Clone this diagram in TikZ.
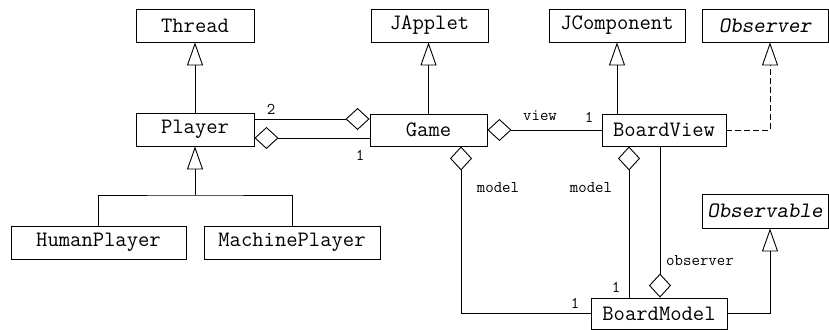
\documentclass[tikz,border=0pt]{standalone}
\usepackage{fontspec}
\usetikzlibrary{arrows.meta}

\begin{document}
\begin{tikzpicture}[x=1pt,y=-1pt,
	box/.style={draw, line width=0.9pt, inner sep=0pt, minimum height=33pt,
		font=\ttfamily\fontsize{22}{24}\selectfont},
	lbl/.style={inner sep=0pt, font=\ttfamily\fontsize{16.4}{18}\selectfont},
	inherit/.style={line width=0.9pt, -{Triangle[open, width=16pt, length=23pt]}},
	realize/.style={inherit, dash pattern=on 6pt off 3pt},
	agg/.style={line width=0.9pt, {Diamond[open, width=22pt, length=24pt]}-}]
	\useasboundingbox (0,0) rectangle (829,329);
	
	% classes
	\node[box, minimum width=118pt] (Thread) at (195,25.5) {Thread};
	\node[box, minimum width=117pt] (JApplet) at (429.5,25.5) {JApplet};
	\node[box, minimum width=136pt] (JComponent) at (617,25.5) {JComponent};
	\node[box, minimum width=126pt] (Observer) at (765,25.5) {\slshape Observer};
	\node[box, minimum width=118pt] (Player) at (195,129.5) {Player};
	\node[box, minimum width=117pt, minimum height=32pt] (Game) at (428.5,130) {Game};
	\node[box, minimum width=124pt, minimum height=32pt] (BoardView) at (664,130) {BoardView};
	\node[box, minimum width=175pt] (HumanPlayer) at (98.5,242.5) {HumanPlayer};
	\node[box, minimum width=176pt] (MachinePlayer) at (292,242.5) {MachinePlayer};
	\node[box, minimum width=126pt, minimum height=34pt] (Observable) at (765,211) {\slshape Observable};
	\node[box, minimum width=136pt, minimum height=31pt] (BoardModel) at (659,313.5) {BoardModel};
	
	% generalisation
	\draw[inherit] (Player) -- (Thread);
	\draw[inherit] (Game) -- (Game |- JApplet.south);
	\draw[inherit] (BoardView.north -| JComponent) -- (JComponent);
	\coordinate (join) at (195,195);
	\draw[line width=0.9pt] (HumanPlayer.north) |- (join) -| (MachinePlayer.north);
	\draw[inherit] (join) -- (Player.south);
	\draw[realize] (BoardView.east) -| ([xshift=5pt]Observer.south);
	\draw[inherit] (BoardModel.east) -| ([xshift=5pt]Observable.south);
	
	% aggregation
	\draw[agg] ([yshift=11pt]Game.west) -- ([yshift=11pt]Game.west -| Player.east);
	\draw[agg] ([yshift=-8.5pt]Player.east) -- ([yshift=-8.5pt]Player.east -| Game.west);
	\draw[agg] (Game.east) -- (BoardView.west);
	\draw[agg] ([xshift=32.5pt]Game.south) |- (BoardModel.west);
	\draw[agg] ([xshift=-35pt]BoardView.south) -- ([xshift=-35pt]BoardView.south |- BoardModel.north);
	\draw[agg] ([xshift=1pt]BoardModel.north) -- ([xshift=1pt]BoardModel.north |- BoardView.south);
	
	% roles and multiplicities
	\node[lbl] (m2) at (271,109) {2};
	\node[lbl] (m1) at (360,155) {1};
	\node[lbl] (rview) at (540,116) {view};
	\node[lbl] (m1v) at (589,117) {1};
	\node[lbl] (rmodel) at (498,188) {model};
	\node[lbl] (rmodelv) at (591,188) {model};
	\node[lbl] (robs) at (700,261) {observer};
	\node[lbl] (m1b) at (616,287) {1};
	\node[lbl] (m1g) at (575,303) {1};
\end{tikzpicture}
\end{document}
